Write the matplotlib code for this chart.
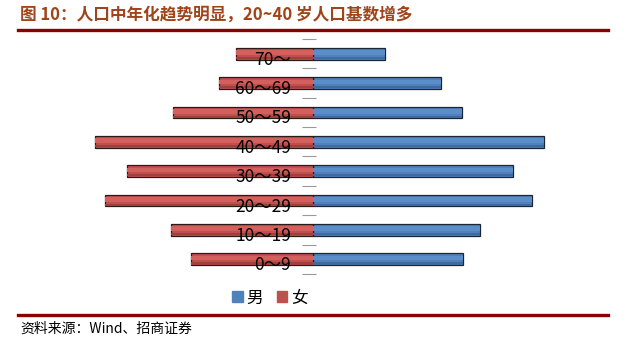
"""Population pyramid by age group (male / female), report-style figure."""
import matplotlib
matplotlib.use("Agg")
import matplotlib.pyplot as plt
from matplotlib.patches import Patch
from matplotlib.transforms import ScaledTranslation
from matplotlib.lines import Line2D

plt.rcParams['font.family'] = ['Noto Sans CJK SC', 'DejaVu Sans']

# ── data (arbitrary units) ──────────────────────────────────────────────────
age_groups = ["0～9", "10～19", "20～29", "30～39", "40～49", "50～59", "60～69", "70～"]
male = [75, 83.5, 109.5, 100, 115.5, 74.5, 64, 36]
female = [61, 71, 104, 93, 109, 70, 47, 38.5]

C_MALE = "#4F81BD"
C_FEMALE = "#C0504D"
C_LINE = "#8B0000"
C_TITLE = "#A0441A"

fig = plt.figure(figsize=(6.26, 3.51), dpi=100)
fig.patch.set_facecolor("white")

ax = fig.add_axes([0, 0.2194, 1, 0.6695])
ax.set_xlim(-156.5, 156.5)
ax.set_ylim(-0.5, len(age_groups) - 0.5)

y = list(range(len(age_groups)))
neg_female = [-v for v in female]
h = 0.40

# base cylinders
ax.barh(y, male, height=h, color=C_MALE, edgecolor="#1c2533", linewidth=0.9, zorder=2)
ax.barh(y, neg_female, height=h, color=C_FEMALE, edgecolor="#2a1a1a", linewidth=0.9, zorder=2)
# lighter top band / darker bottom band for the 3-D look
ax.barh([v + h * 0.10 for v in y], male, height=h * 0.40, color="#5a8dca", linewidth=0, zorder=3)
ax.barh([v + h * 0.10 for v in y], neg_female, height=h * 0.40, color="#d4605d", linewidth=0, zorder=3)
ax.barh([v - h * 0.36 for v in y], male, height=h * 0.18, color="#40699c", linewidth=0, zorder=3)
ax.barh([v - h * 0.36 for v in y], neg_female, height=h * 0.18, color="#a03f3c", linewidth=0, zorder=3)

# category labels sitting on the bars
off = ScaledTranslation(-22 / 100, -6 / 100, fig.dpi_scale_trans)
for yi, lab in zip(y, age_groups):
    ax.text(0, yi, lab, ha="right", va="center", fontsize=12.5, color="black",
            transform=ax.transData + off, zorder=5)

# axis: gray tick marks between categories at the centre
for s in ax.spines.values():
    s.set_visible(False)
ax.set_xticks([])
ax.set_yticks([])
ax.spines["left"].set_position(("data", -2))
ax.set_yticks([k + 0.5 for k in range(-1, len(age_groups))], minor=True)
ax.tick_params(axis="y", which="minor", length=10, width=0.8, color="#999999",
               direction="inout", labelleft=False)
ax.patch.set_alpha(0)

# legend
handles = [Patch(color=C_MALE, label="男"), Patch(color=C_FEMALE, label="女")]
fig.legend(handles=handles, loc="center", bbox_to_anchor=(270 / 626, 1 - 298 / 351),
           ncol=2, frameon=False, fontsize=12, handlelength=0.65, handleheight=0.65,
           handletextpad=0.25, columnspacing=0.8)

# title, rules and source
fig.text(20 / 626, 1 - 15 / 351, "图 10：人口中年化趋势明显，20~40 岁人口基数增多",
         fontsize=12, fontweight="bold", color=C_TITLE, ha="left", va="center")
fig.add_artist(Line2D([18 / 626, 608 / 626], [1 - 30 / 351] * 2, color=C_LINE, lw=2.4))
fig.add_artist(Line2D([18 / 626, 608 / 626], [1 - 315 / 351] * 2, color=C_LINE, lw=2.4))
fig.text(20 / 626, 1 - 329 / 351, "资料来源：Wind、招商证券",
         fontsize=10, color="black", ha="left", va="center")

fig.savefig("out.png", dpi=100, facecolor="white")
